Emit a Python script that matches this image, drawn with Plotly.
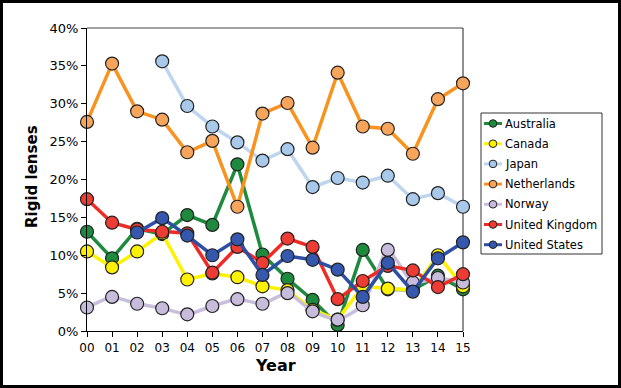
import plotly.graph_objects as go

years = ["00", "01", "02", "03", "04", "05", "06", "07", "08", "09", "10", "11", "12", "13", "14", "15"]
y_ticks = [0, 5, 10, 15, 20, 25, 30, 35, 40]

australia = [13.1, 9.6, 13.5, 12.8, 15.3, 14.0, 22.0, 10.1, 6.9, 4.1, 0.8, 10.7, 5.5, 5.4, 7.3, 5.5]
canada = [10.5, 8.4, 10.5, 12.9, 6.8, 7.6, 7.1, 5.9, 5.4, 2.8, 1.5, 5.9, 5.6, 5.4, 10.0, 5.9]
japan = [None, None, None, 35.6, 29.7, 27.0, 24.9, 22.5, 24.0, 19.0, 20.2, 19.6, 20.5, 17.4, 18.2, 16.4]
netherlands = [27.6, 35.3, 29.0, 27.9, 23.6, 25.1, 16.4, 28.7, 30.1, 24.2, 34.1, 27.0, 26.7, 23.4, 30.6, 32.7]
norway = [3.1, 4.5, 3.6, 3.0, 2.2, 3.3, 4.2, 3.6, 5.0, 2.6, 1.5, 3.4, 10.7, 6.4, 7.0, 6.4]
united_kingdom = [17.4, 14.3, 13.4, 13.1, 12.9, 7.7, 11.1, 9.0, 12.2, 11.1, 4.2, 6.6, 8.6, 8.0, 5.8, 7.5]
united_states = [None, None, 13.0, 14.9, 12.6, 10.0, 12.1, 7.4, 9.9, 9.4, 8.1, 4.5, 9.0, 5.2, 9.6, 11.7]

series = [
    ("Australia", australia, "#1E8A3E", "#1E8A3E", "linear"),
    ("Canada", canada, "#FFF200", "#FFF200", "linear"),
    ("Japan", japan, "#BDD5EE", "#A9C9EB", "linear"),
    ("Netherlands", netherlands, "#F7931E", "#F8A55C", "linear"),
    ("Norway", norway, "#C9BFDD", "#C7BCDC", "spline"),
    ("United Kingdom", united_kingdom, "#EE2B24", "#EE3B33", "linear"),
    ("United States", united_states, "#2D4EA6", "#3558AE", "linear"),
]

# layout geometry (pixels)
W, H = 621, 388
L, R, T, B = 87, 158, 28, 57
PW, PH = W - L - R, H - T - B


def px(x):
    return (x - L) / PW


def py(y):
    return (H - B - y) / PH


fig = go.Figure()
xs = list(range(len(years)))
for name, vals, lc, mc, shape in series:
    fig.add_trace(go.Scatter(
        x=xs, y=vals, name=name, mode="lines+markers",
        line=dict(color=lc, width=3.5, shape=shape, smoothing=0.5),
        marker=dict(size=13, color=mc, line=dict(color="#222222", width=1.2)),
        cliponaxis=False, showlegend=False,
    ))

shapes = []
annotations = []
# outer frame
shapes.append(dict(type="rect", xref="paper", yref="paper",
                   x0=px(1.5), x1=px(619.5), y0=py(386.5), y1=py(1.5),
                   line=dict(color="black", width=3), fillcolor="rgba(0,0,0,0)", layer="below"))
# custom legend
lx0, lx1, ly0, ly1 = 481, 602, 113, 254
shapes.append(dict(type="rect", xref="paper", yref="paper",
                   x0=px(lx0), x1=px(lx1), y0=py(ly1), y1=py(ly0),
                   line=dict(color="#333333", width=1), fillcolor="white"))
for i, (name, vals, lc, mc, shape) in enumerate(series):
    yy = 123.5 + i * 20.2
    shapes.append(dict(type="line", xref="paper", yref="paper",
                       x0=px(484), x1=px(502), y0=py(yy), y1=py(yy),
                       line=dict(color=lc, width=3)))
    r = 3.8
    shapes.append(dict(type="circle", xref="paper", yref="paper",
                       x0=px(493 - r), x1=px(493 + r), y0=py(yy + r), y1=py(yy - r),
                       line=dict(color="#222222", width=1), fillcolor=mc))
    annotations.append(dict(text=name, xref="paper", yref="paper", x=px(503), y=py(yy),
                            xanchor="left", yanchor="middle", showarrow=False,
                            font=dict(family="DejaVu Sans", size=11.5, color="black")))

# axis titles
annotations.append(dict(text="<b>Rigid lenses</b>", xref="paper", yref="paper",
                        x=px(32), y=py(177), textangle=-90, showarrow=False,
                        xanchor="center", yanchor="middle",
                        font=dict(family="DejaVu Sans", size=15, color="black")))
annotations.append(dict(text="<b>Year</b>", xref="paper", yref="paper",
                        x=px(275), y=py(365), showarrow=False,
                        xanchor="center", yanchor="middle",
                        font=dict(family="DejaVu Sans", size=16, color="black")))

fig.update_layout(
    width=W, height=H,
    margin=dict(l=L, r=R, t=T, b=B, pad=0),
    paper_bgcolor="white", plot_bgcolor="white",
    shapes=shapes, annotations=annotations,
    font=dict(family="DejaVu Sans", size=12, color="black"),
    xaxis=dict(range=[0, 15], tickmode="array", tickvals=xs, ticktext=years,
               showgrid=False, zeroline=False, showline=True, linecolor="black", linewidth=1.2,
               mirror=False, ticks="outside", ticklen=5, tickcolor="black",
               tickfont=dict(size=12)),
    yaxis=dict(range=[0, 40], tickmode="array", tickvals=y_ticks,
               ticktext=[f"{v}%" for v in y_ticks],
               showgrid=False, zeroline=False, showline=True, linecolor="black", linewidth=1.2,
               ticks="outside", ticklen=5, tickcolor="black", tickfont=dict(size=13)),
    showlegend=False,
)
# top and right plot borders
fig.add_shape(type="line", xref="paper", yref="paper", x0=0, x1=1, y0=1, y1=1,
              line=dict(color="#444444", width=1.2), layer="below")
fig.add_shape(type="line", xref="paper", yref="paper", x0=1, x1=1, y0=0, y1=1,
              line=dict(color="#444444", width=1.2), layer="below")

fig.write_html("out.html", config={"displayModeBar": False},
               post_script="document.body.style.margin='0';document.body.style.overflow='hidden';")
